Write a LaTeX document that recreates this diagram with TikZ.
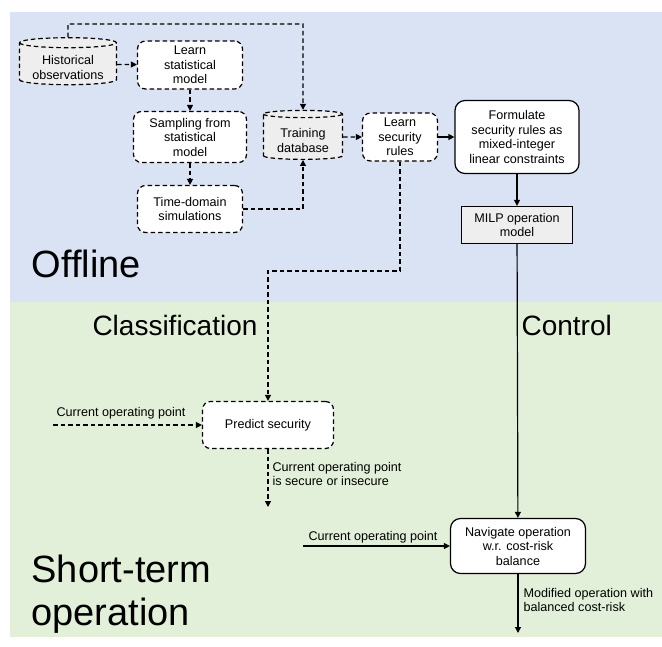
\documentclass[tikz,border=0pt]{standalone}
\usepackage{fontspec}
\setmainfont{Liberation Sans}
\usetikzlibrary{shapes.geometric, arrows.meta}

\definecolor{offbg}{HTML}{DAE3F3}
\definecolor{onbg}{HTML}{E2F0D9}
\definecolor{dbgray}{HTML}{EEEEEE}

\begin{document}
\begin{tikzpicture}[x=1pt, y=-1pt, line width=1.2pt,
    every node/.style={font=\fontsize{12.6}{14.5}\selectfont, align=center, inner sep=0},
    dsh/.style={dash pattern=on 4.5pt off 3pt},
    dbox/.style={draw, dsh, rounded corners=8, fill=white},
    sbox/.style={draw, rounded corners=10, fill=white},
    dbase/.style={draw, dsh, cylinder, shape border rotate=90, aspect=0.14, fill=dbgray, text height=31pt},
    big/.style={font=\fontsize{38}{43}\selectfont, align=left},
    mid/.style={font=\fontsize{28}{32}\selectfont},
    >={Triangle[length=6pt, width=6pt]}]
  \useasboundingbox (0,0) rectangle (662,646);
  \fill [offbg] (10,12) rectangle (662,302);
  \fill [onbg] (10,302) rectangle (662,637);

  % offline part
  \node [dbase, minimum width=97, minimum height=47] (hist) at (68,64) {Historical\\observations};
  \node [dbox, minimum width=105, minimum height=48] (lstat) at (190,65) {Learn\\statistical\\model};
  \node [dbox, minimum width=113, minimum height=51] (samp) at (190,137) {Sampling from\\statistical\\model};
  \node [dbox, minimum width=105, minimum height=47] (tdom) at (190,209) {Time-domain\\simulations};
  \node [dbase, minimum width=79, minimum height=49] (train) at (303,137) {Training\\database};
  \node [dbox, minimum width=75, minimum height=48] (lsec) at (400,137) {Learn\\security\\rules};
  \node [sbox, minimum width=124, minimum height=73] (form) at (517,137) {Formulate\\security rules as\\mixed-integer\\linear constraints};
  \node [draw, fill=dbgray, minimum width=111, minimum height=37] (milp) at (517,225) {MILP operation\\model};

  % short-term part
  \node [dbox, minimum width=131, minimum height=47] (pred) at (268,425) {Predict security};
  \node [sbox, minimum width=135, minimum height=55] (nav) at (518,546) {Navigate operation\\w.r. cost-risk\\balance};

  \coordinate (cop1) at (53,425);
  \coordinate (res1) at (268,507);
  \coordinate (cop2) at (303,546);
  \coordinate (res2) at (518,633);

  \draw [dsh, ->] (hist) -- (lstat);
  \draw [dsh, ->] (hist.north) -- (68,24) -| (train.north);
  \draw [dsh, ->] (lstat) -- (samp);
  \draw [dsh, ->] (samp) -- (tdom);
  \draw [dsh, ->] (tdom.east) -| (train.south);
  \draw [dsh, ->] (train) -- (lsec);
  \draw [->] (lsec) -- (form);
  \draw [->] (form) -- (milp);
  \draw [->] (milp) -- (nav);
  \draw [dsh, ->] (lsec.south) -- (400,271) -| (pred.north);
  \draw [dsh, ->] (cop1) -- (pred);
  \draw [dsh, ->] (pred) -- (res1);
  \draw [->] (cop2) -- (nav);
  \draw [->] (nav) -- (res2);

  % labels
  \node (lcop1) at (121,413) {Current operating point};
  \node [anchor=west, align=left] (lres1) at (272,474) {Current operating point\\is secure or insecure};
  \node (lcop2) at (373,537) {Current operating point};
  \node [anchor=west, align=left] (lres2) at (523,600) {Modified operation with\\balanced cost-risk};

  \node [big, anchor=base west] (offl) at (31,277) {Offline};
  \node [big, anchor=base west] (short) at (31,625) {Short-term\\operation};
  \node [mid, anchor=base] (clas) at (175,335) {Classification};
  \node [mid, anchor=base west] (ctrl) at (521,335) {Control};
\end{tikzpicture}
\end{document}
